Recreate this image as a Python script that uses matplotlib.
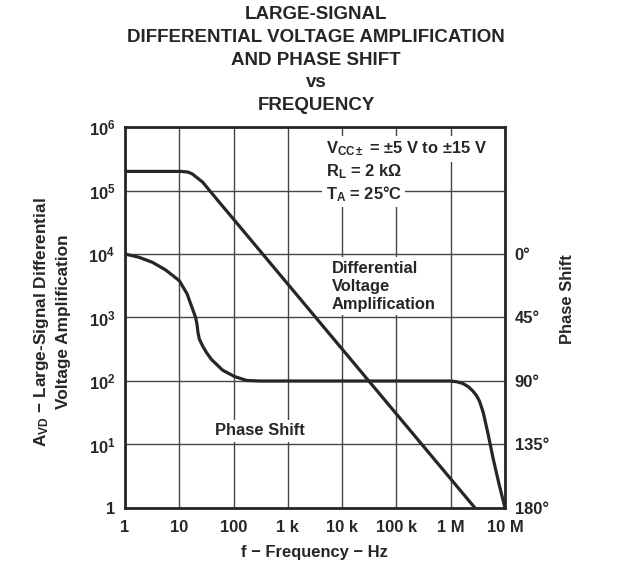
import matplotlib.pyplot as plt
import numpy as np

plt.rcParams['font.family'] = ['Liberation Sans', 'DejaVu Sans']
plt.rcParams['font.weight'] = 'bold'
plt.rcParams['mathtext.fontset'] = 'custom'
plt.rcParams['mathtext.rm'] = 'Liberation Sans:bold'
plt.rcParams['mathtext.it'] = 'Liberation Sans:bold'
plt.rcParams['mathtext.bf'] = 'Liberation Sans:bold'

# Differential voltage amplification
gain_freq = [1, 10.7, 14.5, 17.4, 27, 54, 98, 2.8e6]
gain_avd = [2e5, 2e5, 1.95e5, 1.82e5, 1.35e5, 6.6e4, 3.6e4, 1]

# Phase shift in degrees
phase_freq = [1, 1.8, 3.2, 5.6, 10, 14, 15.5, 20, 21.2, 22.1, 23.4, 27, 31.6, 39, 63, 105, 174, 300,
              1e6, 1.3e6, 1.66e6, 2.1e6, 2.57e6, 3.0e6, 3.39e6, 3.98e6, 4.9e6, 6.0e6, 7.8e6, 1e7]
phase_deg = [0, 2.3, 5.9, 11.3, 18.9, 28.4, 33.3, 45, 50, 55.8, 60.3, 65.3, 69.8, 74.7, 82.4, 86.9, 89.6, 90,
             90, 90.6, 91.7, 94, 97.2, 100.5, 104.3, 112.5, 128, 144.5, 163.5, 180]

x_ticks = [1, 10, 100, 1e3, 1e4, 1e5, 1e6, 1e7]
x_labels = ['1', '10', '100', '1 k', '10 k', '100 k', '1 M', '10 M']
y_ticks = [1, 10, 100, 1e3, 1e4, 1e5, 1e6]
y_labels = ['1', '$10^{1}$', '$10^{2}$', '$10^{3}$', '$10^{4}$', '$10^{5}$', '$10^{6}$']
phase_ticks = [0, 45, 90, 135, 180]
phase_labels = ['0°', '45°', '90°', '135°', '180°']

ink = '#262626'
fs = 11.9
fig = plt.figure(figsize=(6.32, 5.66), dpi=100)
ax = fig.add_axes([0.1978, 0.1025, 0.6013, 0.6731])
ax.set_xscale('log')
ax.set_yscale('log')
ax.set_xlim(1, 1e7)
ax.set_ylim(1, 1e6)
ax.set_xticks(x_ticks)
ax.set_xticklabels(x_labels)
ax.set_yticks(y_ticks)
ax.set_yticklabels(y_labels)
ax.minorticks_off()
ax.tick_params(axis='y', length=0, labelsize=fs, colors=ink, pad=7)
ax.tick_params(axis='x', length=0, labelsize=fs, colors=ink, pad=9)
ax.grid(True, color='#454545', linewidth=1.0)
for s in ax.spines.values():
    s.set_linewidth(2)
    s.set_color(ink)

ax.plot(gain_freq, gain_avd, color=ink, linewidth=2.3, solid_capstyle='butt', zorder=5)

# phase on a linear right axis: 0 deg at 1e4, 180 deg at 1
ax2 = ax.twinx()
ax2.set_ylim(180, -90)
ax2.set_yticks(phase_ticks)
ax2.set_yticklabels(phase_labels)
ax2.tick_params(length=0, labelsize=fs, colors=ink, pad=7)
ax2.plot(phase_freq, phase_deg, color=ink, linewidth=2.3, zorder=5)
for s in ax2.spines.values():
    s.set_visible(False)

# annotations with white backgrounds that break the grid
box = dict(facecolor='white', edgecolor='none', pad=2.5)
ax.text(5.0e3, 3.85e5, 'V$_{\\mathrm{CC\\pm}}$ = ±5 V to ±15 V', fontsize=fs, color=ink,
        ha='left', va='baseline', bbox=box)
ax.text(5.0e3, 1.65e5, 'R$_{\\mathrm{L}}$ = 2 kΩ', fontsize=fs, color=ink,
        ha='left', va='baseline', bbox=box)
ax.text(5.0e3, 7.4e4, 'T$_{\\mathrm{A}}$ = 25°C', fontsize=fs, color=ink,
        ha='left', va='baseline', bbox=box)
ax.text(6.5e3, 7.8e3, 'Differential\nVoltage\nAmplification', fontsize=fs, color=ink,
        ha='left', va='top', linespacing=1.25, bbox=box)
ax.text(45, 16.5, 'Phase Shift', fontsize=fs, color=ink, ha='left', va='center', bbox=box)

fig.text(0.5, 0.989, 'LARGE-SIGNAL\nDIFFERENTIAL VOLTAGE AMPLIFICATION\nAND PHASE SHIFT\nvs\nFREQUENCY',
         ha='center', va='top', fontsize=13.5, color=ink, linespacing=1.44)
fig.text(0.498, 0.024, 'f − Frequency − Hz', ha='center', va='center', fontsize=fs, color=ink)
fig.text(0.081, 0.431, 'A$_{\\mathrm{VD}}$ − Large-Signal Differential\nVoltage Amplification',
         rotation=90, ha='center', va='center', fontsize=12.4, color=ink, linespacing=1.4)
fig.text(0.898, 0.472, 'Phase Shift', rotation=90, ha='center', va='center', fontsize=fs, color=ink)

fig.savefig('out.png', dpi=100)
